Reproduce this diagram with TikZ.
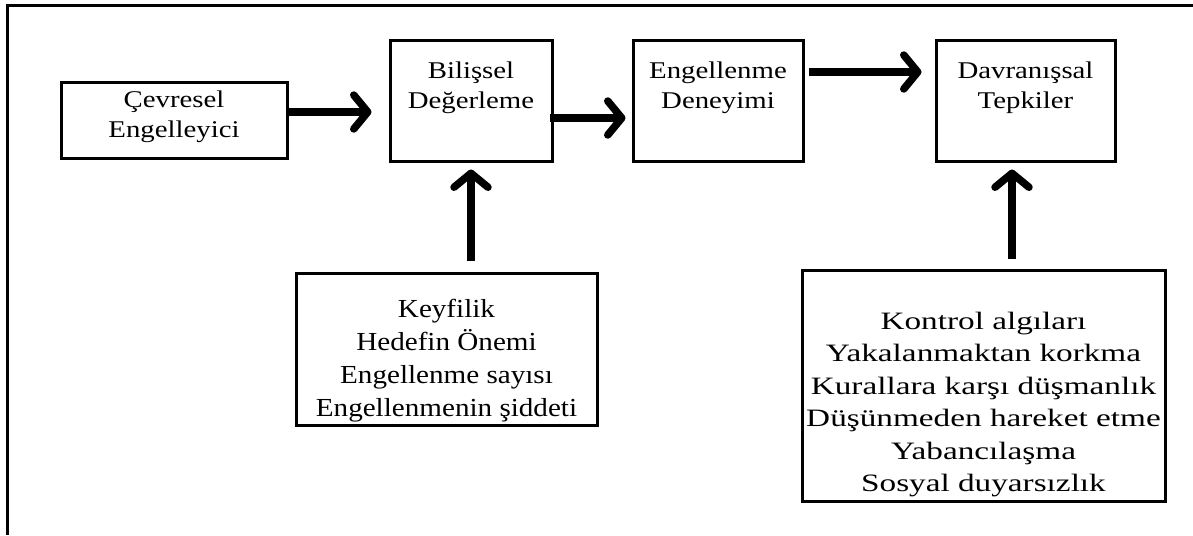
\documentclass[tikz,border=0pt]{standalone}
\usepackage{fontspec}
\setmainfont{Liberation Serif}[FakeStretch=1.2]
\newfontfamily\midfont{Liberation Serif}[FakeStretch=1.12]
\newfontfamily\widefont{Liberation Serif}[FakeStretch=1.33]
\usetikzlibrary{arrows.meta,positioning}

\begin{document}
\begin{tikzpicture}[x=1pt,y=-1pt,node distance=250pt,
    box/.style={rectangle, draw, line width=3pt, align=center, inner xsep=0pt, inner ysep=10pt},
    top box/.style={box, font=\fontsize{24}{30}\selectfont, text height=57pt, text depth=43pt},
    big arrow/.style={line width=7.5pt, -{Straight Barb[length=14pt,width=34pt,round]}}]
    \useasboundingbox (0,0) rectangle (1193,535);
    % frame
    \draw[line width=3pt] (1193,6) -- (7,6) -- (7,535);

    \node [box, minimum width=226pt, inner ysep=5pt, text height=50pt, text depth=16pt, font=\fontsize{24}{30}\selectfont](1) at (174,120) {Çevresel\\Engelleyici};
    \node [top box, minimum width=162pt](2) [right of=1, xshift=47, yshift=19]{Bilişsel\\Değerleme};
    \node [top box, minimum width=170pt](3) [right of=2, xshift=-3]{Engellenme\\Deneyimi};
    \node [top box, minimum width=179pt](4) [right of=3, xshift=57.5]{Davranışsal\\Tepkiler};

    \node [box, minimum width=301pt, inner ysep=8pt, text height=135pt, text depth=1pt, font=\midfont\fontsize{26}{33}\selectfont](5) [below of=2, xshift=-24.5, yshift=2]{Keyfilik\\Hedefin Önemi\\Engellenme sayısı\\Engellenmenin şiddeti};
    \node [box, minimum width=363pt, inner ysep=8pt, text height=213.5pt, text depth=1.5pt, font=\widefont\fontsize{25}{32.5}\selectfont](6) [below of=4, xshift=-42, yshift=-34.5]{Kontrol algıları\\Yakalanmaktan korkma\\Kurallara karşı düşmanlık\\Düşünmeden hareket etme\\Yabancılaşma\\Sosyal duyarsızlık};

    \path[big arrow]
        ([yshift=8pt]1.east) edge[shorten >=17pt] ([yshift=8pt]1.east -| 2.west)
        ([yshift=-17pt]2.east) edge[shorten <=-4pt, shorten >=6pt] ([yshift=-17pt]2.east -| 3.west)
        ([yshift=29pt]3.east) edge[shorten <=4pt, shorten >=13pt] ([yshift=29pt]3.east -| 4.west)
        (5.north -| 2.south) edge[shorten <=11pt, shorten >=7pt] (2.south)
        ([xshift=-13.5pt]4.south |- 6.north) edge[shorten <=10pt, shorten >=7pt] ([xshift=-13.5pt]4.south)
        ;
\end{tikzpicture}
\end{document}
